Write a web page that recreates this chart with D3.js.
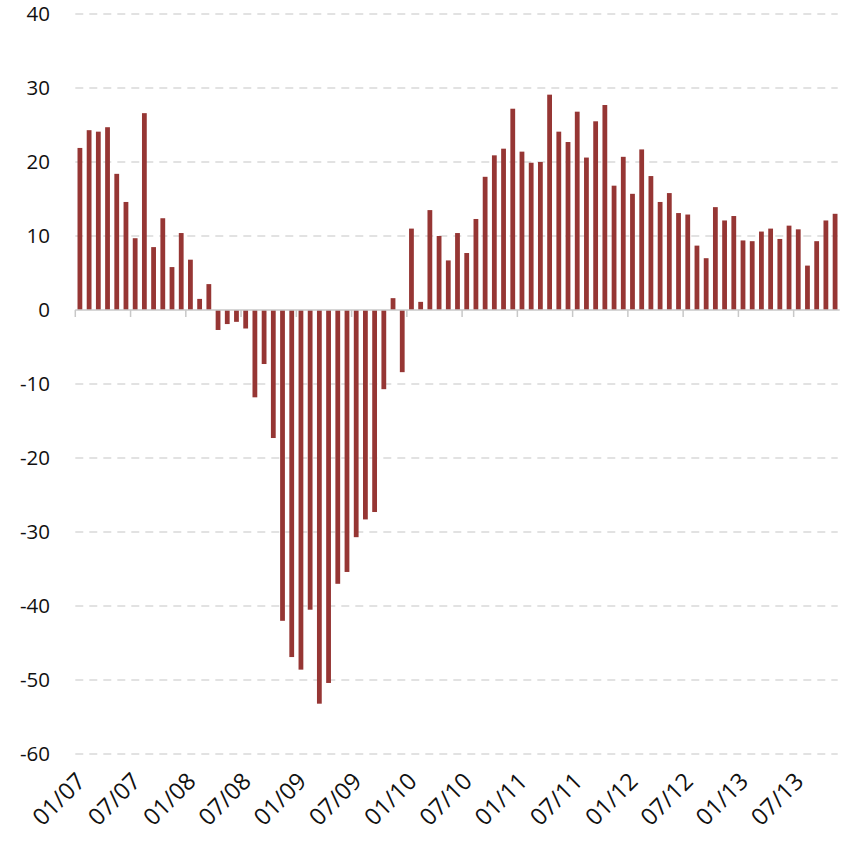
<!DOCTYPE html>
<html><head><meta charset="utf-8">
<script src="https://cdn.jsdelivr.net/npm/d3@7"></script>
<style>body{margin:0;background:#fff}svg{display:block}</style>
</head><body>
<svg id="chart" width="850" height="846"></svg>
<script>
// Monthly series, Jan 2007 .. Nov 2013
const startYear = 2007;
const values = [
  21.9, 24.3, 24.1, 24.7, 18.4, 14.6, 9.7, 26.6, 8.5, 12.4, 5.8, 10.4,
  6.8, 1.5, 3.5, -2.7, -1.9, -1.6, -2.5, -11.8, -7.3, -17.3, -42.0, -46.9,
  -48.6, -40.5, -53.2, -50.4, -37.0, -35.4, -30.7, -28.3, -27.3, -10.7, 1.6, -8.4,
  11.0, 1.1, 13.5, 10.0, 6.7, 10.4, 7.7, 12.3, 18.0, 20.9, 21.8, 27.2,
  21.4, 19.9, 20.0, 29.1, 24.1, 22.7, 26.8, 20.6, 25.5, 27.7, 16.8, 20.7,
  15.7, 21.7, 18.1, 14.6, 15.8, 13.1, 12.9, 8.7, 7.0, 13.9, 12.1, 12.7,
  9.4, 9.3, 10.6, 11.0, 9.6, 11.4, 10.9, 6.0, 9.3, 12.1, 13.0
];
const categories = values.map((v, i) => {
  const m = i % 12 + 1, y = (startYear + Math.floor(i / 12)) % 100;
  return String(m).padStart(2, "0") + "/" + String(y).padStart(2, "0");
});
const xTickLabels = ["01/07","07/07","01/08","07/08","01/09","07/09","01/10","07/10","01/11","07/11","01/12","07/12","01/13","07/13"];
const yTicks = [-60, -50, -40, -30, -20, -10, 0, 10, 20, 30, 40];

const svg = d3.select("#chart");
const fontFam = "'Open Sans', Lato, sans-serif";
const x0 = 75.3, x1 = 839.7;
const pIn = 0.48;
const x = d3.scaleBand().domain(categories).range([x0, x1]).paddingInner(pIn).paddingOuter(pIn / 2);
const y = d3.scaleLinear().domain([-60, 40]).range([754, 14]);

// gridlines
svg.append("g").selectAll("line").data(yTicks.filter(d => d !== 0)).join("line")
  .attr("x1", x0).attr("x2", x1 - 2)
  .attr("y1", d => y(d)).attr("y2", d => y(d))
  .attr("stroke", "#d9d9d9").attr("stroke-width", 1.6).attr("stroke-dasharray", "8,6");

// y labels
svg.append("g").selectAll("text").data(yTicks).join("text")
  .attr("x", 50).attr("y", d => y(d)).attr("dy", "0.35em")
  .attr("text-anchor", "end").attr("font-family", fontFam).attr("font-size", 20.5)
  .attr("fill", "#111").text(d => String(d));

// bars
svg.append("g").selectAll("rect").data(values).join("rect")
  .attr("x", (d, i) => x(categories[i]))
  .attr("width", x.bandwidth())
  .attr("y", d => y(Math.max(0, d)))
  .attr("height", d => Math.abs(y(d) - y(0)))
  .attr("fill", "#963634");

// zero axis line + ticks
const step = x.step();
const axisG = svg.append("g");
axisG.append("line").attr("x1", x0).attr("x2", x1).attr("y1", y(0)).attr("y2", y(0))
  .attr("stroke", "#c8c8c8").attr("stroke-width", 1.5);
const tickIdx = categories.map((c, i) => i).filter(i => xTickLabels.includes(categories[i]));
axisG.selectAll("line.tk").data(tickIdx).join("line").attr("class", "tk")
  .attr("x1", i => x(categories[i]) - step * pIn / 2).attr("x2", i => x(categories[i]) - step * pIn / 2)
  .attr("y1", y(0)).attr("y2", y(0) + 7)
  .attr("stroke", "#c8c8c8").attr("stroke-width", 1.5);

// x labels (rotated, at bottom)
svg.append("g").selectAll("text").data(tickIdx).join("text")
  .attr("transform", i => `translate(${x(categories[i]) + x.bandwidth() / 2 + 1},${777}) rotate(-45)`)
  .attr("text-anchor", "end").attr("dy", "0.35em")
  .attr("font-family", fontFam).attr("font-size", 23.5).attr("fill", "#111")
  .text(i => categories[i]);
</script>
</body></html>
